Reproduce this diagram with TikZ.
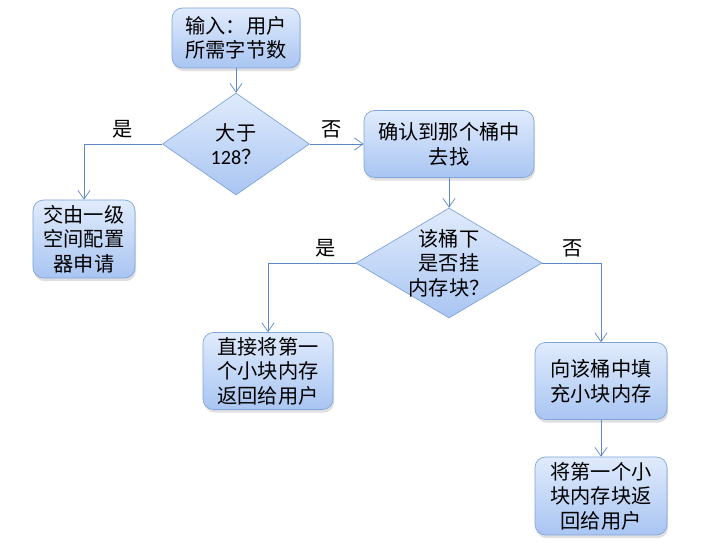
\documentclass[tikz,border=0pt]{standalone}
\usepackage{fontspec}
\setmainfont{Noto Sans CJK SC}
\newfontfamily\digitfont{Carlito}
\usetikzlibrary{shapes.geometric,arrows.meta,shadows}

\definecolor{boxtop}{HTML}{E0EBFC}
\definecolor{boxbot}{HTML}{A9C5F2}
\definecolor{boxline}{HTML}{7FA5DC}
\definecolor{flowline}{HTML}{5B88C9}

\begin{document}
\begin{tikzpicture}[
    font=\fontsize{11.5}{14}\selectfont,
    stepbox/.style={rectangle, rounded corners=6pt, draw=boxline, top color=boxtop, bottom color=boxbot,
        align=center, inner sep=2pt, drop shadow={shadow xshift=0.6pt, shadow yshift=-1.8pt, opacity=0.25}},
    askbox/.style={diamond, draw=boxline, top color=boxtop, bottom color=boxbot, inner sep=0pt},
    flow/.style={draw=flowline, -{Straight Barb[length=5pt,width=7pt]}},
    ]
    
    \useasboundingbox (0,0) rectangle (14.42,11.02);
    
    % boxes
    \node[stepbox, minimum width=2.56cm, minimum height=1.2cm] (input) at (4.72,10.26) {输入：用户\\所需字节数};
    \node[stepbox, minimum width=2.04cm, minimum height=1.56cm] (first) at (1.68,6.24) {交由一级\\空间配置\\器申请};
    \node[stepbox, minimum width=3.4cm, minimum height=1.34cm] (bucket) at (8.98,8.14) {确认到那个桶中\\去找};
    \node[stepbox, minimum width=2.6cm, minimum height=1.54cm] (direct) at (5.36,3.6) {直接将第一\\个小块内存\\返回给用户};
    \node[stepbox, minimum width=2.64cm, minimum height=1.54cm] (refill) at (12.02,3.4) {向该桶中填\\充小块内存};
    \node[stepbox, minimum width=2.64cm, minimum height=1.56cm] (back) at (12.02,1.1) {将第一个小\\块内存块返\\回给用户};
    
    % diamonds
    \node[askbox, minimum width=2.94cm, minimum height=2.04cm] (big) at (4.72,8.14) {};
    \node[align=center] (bigtext) at (big) {大于\\{\digitfont 128}？};
    \node[askbox, minimum width=3.72cm, minimum height=2.2cm] (hang) at (8.98,5.76) {};
    \node[align=center] (hangtext) at (hang) {该桶下\\是否挂\\内存块？};
    
    % lines
    \draw[flow] (input) -- (big);
    \draw[flow] (big.west) -| node[pos=0.25, above] {是} (first.north);
    \draw[flow] (big.east) -- node[pos=0.4, above] {否} (bucket.west);
    \draw[flow] (bucket) -- (hang);
    \draw[flow] (hang.west) -| node[pos=0.17, above] {是} (direct.north);
    \draw[flow] (hang.east) -| node[pos=0.26, above] {否} (refill.north);
    \draw[flow] (refill) -- (back);
    
\end{tikzpicture}
\end{document}
